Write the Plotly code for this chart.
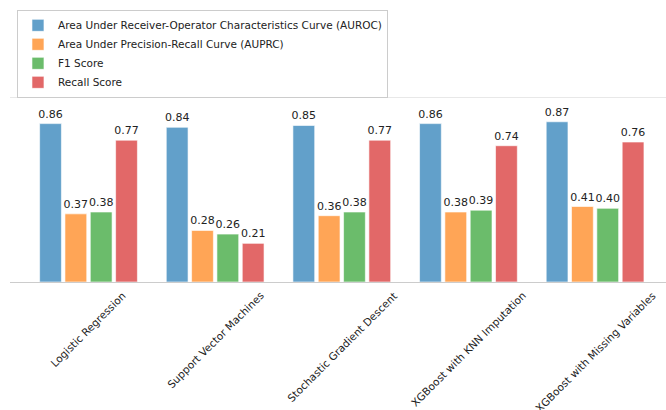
import plotly.graph_objects as go

categories = ["Logistic Regression", "Support Vector Machines", "Stochastic Gradient Descent",
              "XGBoost with KNN Imputation", "XGBoost with Missing Variables"]
series_names = ["Area Under Receiver-Operator Characteristics Curve (AUROC)",
                "Area Under Precision-Recall Curve (AUPRC)",
                "F1 Score",
                "Recall Score"]
auroc = [0.86, 0.84, 0.85, 0.86, 0.87]
auprc = [0.37, 0.28, 0.36, 0.38, 0.41]
f1 = [0.38, 0.26, 0.38, 0.39, 0.40]
recall = [0.77, 0.21, 0.77, 0.74, 0.76]
colors = ["#62a0ca", "#ffa556", "#6bbc6b", "#e26868"]

FONT = "DejaVu Sans"
fig = go.Figure()
xs = list(range(len(categories)))
for name, vals, col in zip(series_names, [auroc, auprc, f1, recall], colors):
    fig.add_trace(go.Bar(
        x=xs, y=vals, name=name,
        marker=dict(color=col, line=dict(color="rgba(255,255,255,0.6)", width=1)),
        text=[f"{v:.2f}" for v in vals], textposition="outside",
        textfont=dict(family=FONT, size=11, color="#222222"),
        cliponaxis=False,
    ))

for i, c in enumerate(categories):
    fig.add_annotation(x=i, y=-0.025, xref="x", yref="paper", text=c, textangle=-45,
                       showarrow=False, xanchor="center", yanchor="top",
                       font=dict(family=FONT, size=10.5, color="#222222"))

fig.update_layout(
    width=666, height=410,
    margin=dict(l=10, r=0, t=96, b=128, autoexpand=False),
    paper_bgcolor="white", plot_bgcolor="white",
    barmode="group", bargap=0.2, bargroupgap=0.14,
    font=dict(family=FONT, size=10.5, color="#222222"),
    showlegend=True,
    legend=dict(xref="container", yref="container", x=0.0255, y=0.976,
                xanchor="left", yanchor="top",
                bordercolor="#cccccc", borderwidth=1, bgcolor="white",
                font=dict(family=FONT, size=10.5, color="#222222"),
                tracegroupgap=0, itemwidth=30),
    xaxis=dict(range=[-0.62, 4.56], showticklabels=False, ticks="", showgrid=False,
               showline=True, linecolor="#cccccc", linewidth=1, zeroline=False),
    yaxis=dict(range=[0, 1.01], tickvals=[1.0], showticklabels=False, ticks="",
               showgrid=True, gridcolor="#e8e8e8", gridwidth=1, zeroline=False, showline=False),
    uniformtext=dict(minsize=11, mode="show"),
)
fig.write_html("out.html", config={"displayModeBar": False},
               post_script="document.body.style.margin='0';")
